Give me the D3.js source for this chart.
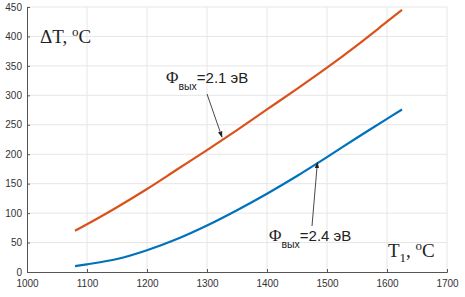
<!DOCTYPE html>
<html>
<head>
<meta charset="utf-8">
<script src="https://cdn.jsdelivr.net/npm/d3@7"></script>
<style>
  body { margin: 0; background: #fff; }
  svg { display: block; }
</style>
</head>
<body>
<div id="chart"></div>
<script>
/* DATA */
const temps = [1080, 1100, 1150, 1200, 1250, 1300, 1350, 1400, 1450, 1500, 1550, 1600, 1625];
const dT21 = [70, 81, 110, 141, 174, 207, 241, 276, 311, 347, 385, 425, 445];
const dT24 = [10, 13, 22, 37, 56, 79, 105, 133, 163, 195, 228, 260, 276];
const xTicks = [1000, 1100, 1200, 1300, 1400, 1500, 1600, 1700];
const yTicks = [0, 50, 100, 150, 200, 250, 300, 350, 400, 450];

/* CONSTANTS */
const width = 465, height = 297,
  margin = { top: 7, right: 18, bottom: 25, left: 27 };

const xScale = d3.scaleLinear()
  .domain([1000, 1700])
  .range([margin.left, width - margin.right]);

const yScale = d3.scaleLinear()
  .domain([0, 450])
  .range([height - margin.bottom, margin.top]);

const svg = d3.select("#chart")
  .append("svg")
  .attr("width", width)
  .attr("height", height);

// arrow head
svg.append("defs").append("marker")
  .attr("id", "head")
  .attr("viewBox", "0 0 10 10")
  .attr("refX", 9).attr("refY", 5)
  .attr("markerWidth", 7).attr("markerHeight", 7)
  .attr("orient", "auto")
  .append("path")
  .attr("d", "M0,1.5L10,5L0,8.5Z")
  .attr("fill", "#222");

// grid
svg.append("g")
  .selectAll("line")
  .data(xTicks.slice(1))
  .join("line")
  .attr("x1", d => xScale(d)).attr("x2", d => xScale(d))
  .attr("y1", yScale(0)).attr("y2", yScale(450))
  .attr("stroke", "#e6e6e6");

svg.append("g")
  .selectAll("line")
  .data(yTicks.slice(1))
  .join("line")
  .attr("x1", xScale(1000)).attr("x2", xScale(1700))
  .attr("y1", d => yScale(d)).attr("y2", d => yScale(d))
  .attr("stroke", "#e6e6e6");

// axes
const sans = "Liberation Sans, Arial, sans-serif";
const serif = "Liberation Serif, Times New Roman, serif";

const xAxis = d3.axisBottom(xScale).tickValues(xTicks).tickFormat(d3.format("d"))
  .tickSize(-3).tickPadding(8);
svg.append("g")
  .attr("transform", `translate(0, ${yScale(0)})`)
  .call(xAxis)
  .call(g => g.select(".domain").attr("stroke", "#555"))
  .call(g => g.selectAll(".tick line").attr("stroke", "#555"))
  .call(g => g.selectAll("text")
    .attr("fill", "#333")
    .attr("font-family", sans)
    .attr("font-size", 10));

const yAxis = d3.axisLeft(yScale).tickValues(yTicks).tickSize(-3).tickPadding(5);
svg.append("g")
  .attr("transform", `translate(${xScale(1000)}, 0)`)
  .call(yAxis)
  .call(g => g.select(".domain").attr("stroke", "#555"))
  .call(g => g.selectAll(".tick line").attr("stroke", "#555"))
  .call(g => g.selectAll("text")
    .attr("fill", "#333")
    .attr("font-family", sans)
    .attr("font-size", 10));

// curves
const line = d3.line()
  .x((d, i) => xScale(temps[i]))
  .y(d => yScale(d))
  .curve(d3.curveCatmullRom);

svg.append("path")
  .datum(dT21)
  .attr("d", line)
  .attr("fill", "none")
  .attr("stroke", "#D95319")
  .attr("stroke-width", 2.2);

svg.append("path")
  .datum(dT24)
  .attr("d", line)
  .attr("fill", "none")
  .attr("stroke", "#0072BD")
  .attr("stroke-width", 2.2);

// axis titles
const yTitle = svg.append("text")
  .attr("x", 40).attr("y", 43)
  .attr("font-family", serif).attr("font-size", 19).attr("fill", "#222");
yTitle.append("tspan").text("ΔT, ");
yTitle.append("tspan").text("o").attr("font-size", 13).attr("dy", -7);
yTitle.append("tspan").text("C").attr("dy", 7);

const xTitle = svg.append("text")
  .attr("x", 388).attr("y", 257)
  .attr("font-family", serif).attr("font-size", 19).attr("fill", "#222");
xTitle.append("tspan").text("T");
xTitle.append("tspan").text("1").attr("font-size", 13).attr("dy", 5);
xTitle.append("tspan").text(", ").attr("dy", -5);
xTitle.append("tspan").text("o").attr("font-size", 13).attr("dy", -7);
xTitle.append("tspan").text("C").attr("dy", 7);

// annotations
function annot(x, y, val) {
  const t = svg.append("text")
    .attr("x", x).attr("y", y)
    .attr("fill", "#222");
  t.append("tspan").text("Φ").attr("font-family", serif).attr("font-size", 17);
  t.append("tspan").text("вых").attr("font-family", sans).attr("font-size", 10.5).attr("dy", 7);
  t.append("tspan").text("=" + val + " эВ").attr("font-family", sans).attr("font-size", 15).attr("dy", -7);
}
annot(166, 83, "2.1");
annot(269, 241, "2.4");

svg.append("line")
  .attr("x1", 207).attr("y1", 94)
  .attr("x2", xScale(1325)).attr("y2", yScale(229))
  .attr("stroke", "#333").attr("stroke-width", 0.9)
  .attr("marker-end", "url(#head)");

svg.append("line")
  .attr("x1", 312).attr("y1", 226)
  .attr("x2", xScale(1484)).attr("y2", yScale(186))
  .attr("stroke", "#333").attr("stroke-width", 0.9)
  .attr("marker-end", "url(#head)");
</script>
</body>
</html>
